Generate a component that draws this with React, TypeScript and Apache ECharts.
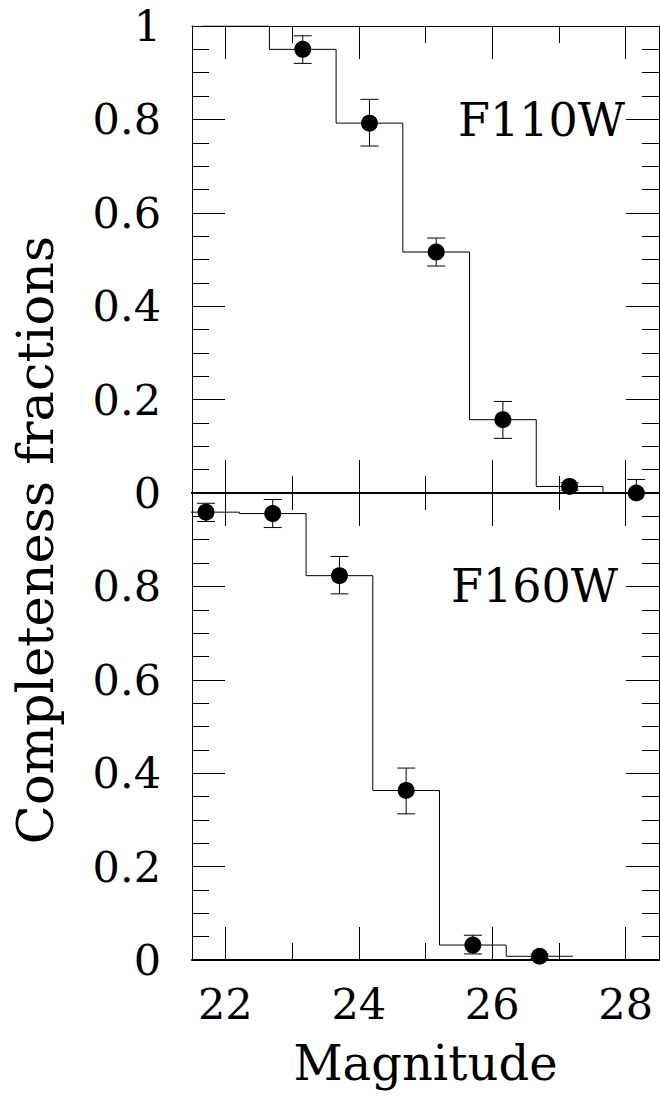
import React, { useEffect, useRef } from "react";
import * as echarts from "echarts";

// ---- data ----
const magF110W = [23.16, 24.16, 25.16, 26.16, 27.16, 28.16];
const fracF110W = [0.95, 0.792, 0.516, 0.157, 0.014, 0.0];
const errLowF110W = [0.92, 0.743, 0.486, 0.117, 0.006, -0.029];
const errHighF110W = [0.979, 0.843, 0.546, 0.196, 0.022, 0.029];
const histF110W = [1.0, 0.95, 0.792, 0.516, 0.157, 0.014, 0.0];
const histF110WStart = 21.66;

const magF160W = [21.71, 22.71, 23.71, 24.71, 25.71, 26.71];
const fracF160W = [0.959, 0.956, 0.823, 0.363, 0.032, 0.008];
const errLowF160W = [0.939, 0.926, 0.784, 0.313, 0.013, 0.003];
const errHighF160W = [0.978, 0.986, 0.864, 0.411, 0.053, 0.013];
const histF160W = [0.959, 0.956, 0.823, 0.363, 0.032, 0.008];
const histF160WStart = 21.21;

const binWidth = 1;
const magRange = [21.5, 28.5];
const fracRange = [0, 1];
const panelLabels = ["F110W", "F160W"];

const FONT = "DejaVu Serif";

function stepPoints(start: number, width: number, values: number[]) {
  const pts: number[][] = [];
  values.forEach((v, i) => {
    pts.push([start + i * width, v]);
    pts.push([start + (i + 1) * width, v]);
  });
  return pts;
}

function xAxisCfg(gridIndex: number, position: string, showLabels: boolean, lineWidth: number) {
  return {
    type: "value",
    gridIndex,
    position,
    min: magRange[0],
    max: magRange[1],
    splitNumber: 4,
    axisLine: { show: true, onZero: false, lineStyle: { color: "#000", width: lineWidth } },
    axisTick: { show: true, inside: true, length: 33, lineStyle: { color: "#000", width: 1 } },
    minorTick: { show: true, splitNumber: 2, length: 17, lineStyle: { color: "#000", width: 1 } },
    splitLine: { show: false },
    axisLabel: showLabels
      ? {
          show: true,
          margin: 22,
          fontSize: 43,
          fontFamily: FONT,
          color: "#000",
          formatter: (v: number) => (Math.abs(v - Math.round(v)) < 1e-6 ? String(Math.round(v)) : ""),
        }
      : { show: false },
    name: showLabels ? "Magnitude" : "",
    nameLocation: "middle",
    nameGap: 79,
    nameTextStyle: { fontSize: 48, fontFamily: FONT, color: "#000" },
  };
}

function yAxisCfg(gridIndex: number, position: string, showLabels: boolean, hideMax: boolean) {
  return {
    type: "value",
    gridIndex,
    position,
    min: fracRange[0],
    max: fracRange[1],
    interval: 0.2,
    axisLine: { show: true, onZero: false, lineStyle: { color: "#000", width: 1 } },
    axisTick: { show: true, inside: true, length: 33, lineStyle: { color: "#000", width: 1 } },
    minorTick: { show: true, splitNumber: 4, length: 17, lineStyle: { color: "#000", width: 1 } },
    splitLine: { show: false },
    axisLabel: showLabels
      ? {
          show: true,
          margin: 31,
          fontSize: 43,
          fontFamily: FONT,
          color: "#000",
          formatter: (v: number) => {
            if (hideMax && v > 0.999) return "";
            if (v < 1e-9) return "0";
            if (v > 0.999) return "1";
            return v.toFixed(1);
          },
        }
      : { show: false },
  };
}

function errorBarRender(params: any, api: any) {
  const x = api.value(0);
  const lo = api.value(1);
  const hi = api.value(2);
  const pHi = api.coord([x, hi]);
  const pLo = api.coord([x, lo]);
  const hw = 9;
  const style = { stroke: "#000", lineWidth: 1 };
  return {
    type: "group",
    children: [
      { type: "line", shape: { x1: pHi[0], y1: pHi[1], x2: pLo[0], y2: pLo[1] }, style },
      { type: "line", shape: { x1: pHi[0] - hw, y1: pHi[1], x2: pHi[0] + hw, y2: pHi[1] }, style },
      { type: "line", shape: { x1: pLo[0] - hw, y1: pLo[1], x2: pLo[0] + hw, y2: pLo[1] }, style },
    ],
  };
}

function panelSeries(
  axisIndex: number,
  mags: number[],
  fracs: number[],
  lows: number[],
  highs: number[],
  hist: number[],
  histStart: number
) {
  return [
    {
      type: "line",
      xAxisIndex: axisIndex,
      yAxisIndex: axisIndex,
      data: stepPoints(histStart, binWidth, hist),
      symbol: "none",
      lineStyle: { color: "#000", width: 1 },
      clip: true,
      z: 2,
    },
    {
      type: "custom",
      xAxisIndex: axisIndex,
      yAxisIndex: axisIndex,
      data: mags.map((m, i) => [m, lows[i], highs[i]]),
      encode: { x: 0, y: [1, 2] },
      renderItem: errorBarRender,
      clip: true,
      z: 3,
    },
    {
      type: "scatter",
      xAxisIndex: axisIndex,
      yAxisIndex: axisIndex,
      data: mags.map((m, i) => [m, fracs[i]]),
      symbol: "circle",
      symbolSize: 17,
      itemStyle: { color: "#000", opacity: 1 },
      clip: false,
      z: 4,
    },
  ];
}

export default function App() {
  const ref = useRef<HTMLDivElement>(null);
  useEffect(() => {
    if (!ref.current) return;
    const chart = echarts.init(ref.current, undefined, { renderer: "svg" });
    const option: any = {
      animation: false,
      backgroundColor: "#fff",
      grid: [
        { left: 192, top: 26, width: 467, height: 467, outerBoundsMode: "none" },
        { left: 192, top: 493, width: 467, height: 467, outerBoundsMode: "none" },
      ],
      xAxis: [
        xAxisCfg(0, "bottom", false, 2),
        xAxisCfg(0, "top", false, 1),
        xAxisCfg(1, "bottom", true, 2),
        xAxisCfg(1, "top", false, 2),
      ],
      yAxis: [
        yAxisCfg(0, "left", true, false),
        yAxisCfg(0, "right", false, false),
        yAxisCfg(1, "left", true, true),
        yAxisCfg(1, "right", false, false),
      ],
      series: [
        ...panelSeries(0, magF110W, fracF110W, errLowF110W, errHighF110W, histF110W, histF110WStart),
        ...panelSeries(2, magF160W, fracF160W, errLowF160W, errHighF160W, histF160W, histF160WStart),
      ],
      graphic: [
        {
          type: "text",
          x: 35,
          y: 540,
          rotation: Math.PI / 2,
          style: {
            text: "Completeness fractions",
            fontSize: 51,
            fontFamily: FONT,
            fill: "#000",
            align: "center",
            verticalAlign: "middle",
          },
        },
        {
          type: "text",
          x: 625,
          y: 120,
          style: {
            text: panelLabels[0],
            fontSize: 46,
            fontFamily: FONT,
            fill: "#000",
            align: "right",
            verticalAlign: "middle",
          },
        },
        {
          type: "text",
          x: 618,
          y: 586,
          style: {
            text: panelLabels[1],
            fontSize: 46,
            fontFamily: FONT,
            fill: "#000",
            align: "right",
            verticalAlign: "middle",
          },
        },
      ],
    };
    chart.setOption(option);
    return () => chart.dispose();
  }, []);
  return (
    <div
      ref={ref}
      style={{ position: "absolute", left: 0, top: 0, width: 660, height: 1097, background: "#fff" }}
    />
  );
}
